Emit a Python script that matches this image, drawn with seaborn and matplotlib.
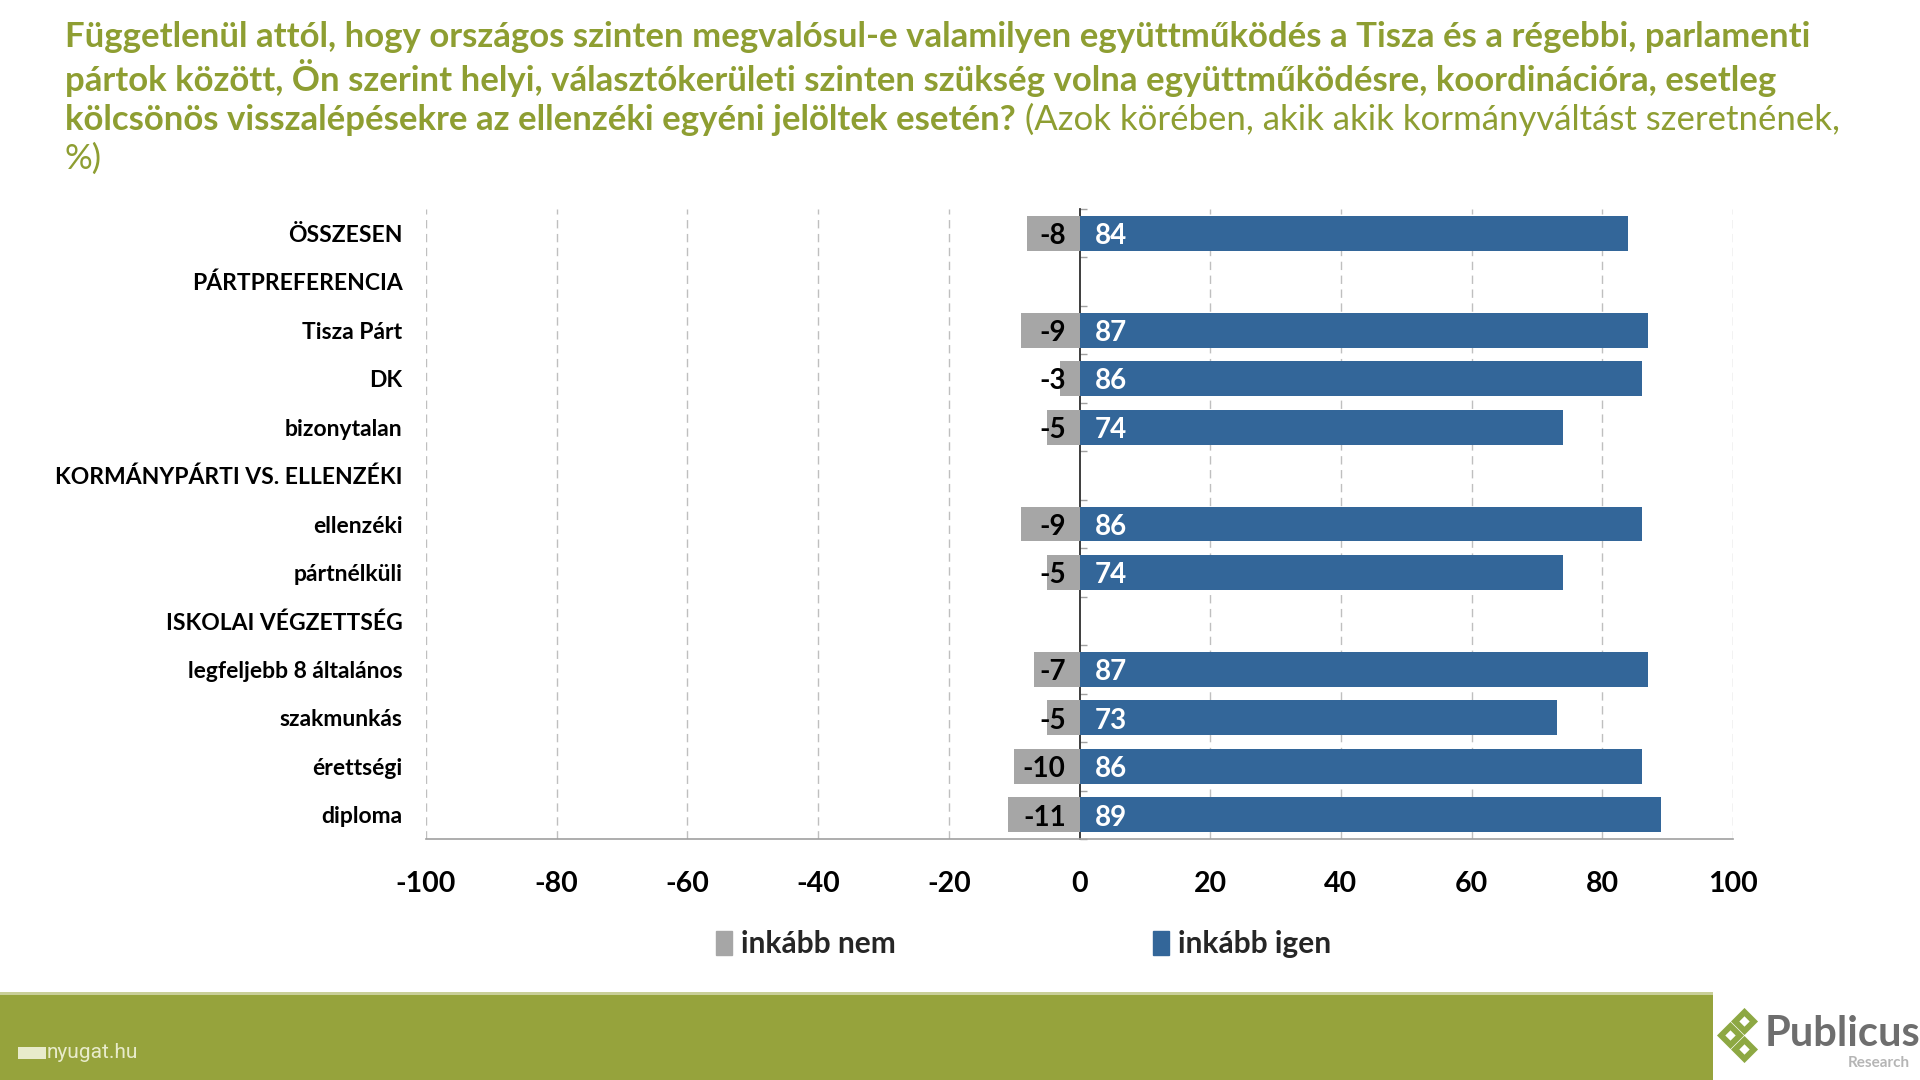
import numpy as np
import pandas as pd
import matplotlib
matplotlib.use("Agg")
import matplotlib.pyplot as plt
import matplotlib.patches as mpatches
import seaborn as sns

# chart data
categories = ['ÖSSZESEN', 'PÁRTPREFERENCIA', 'Tisza Párt', 'DK', 'bizonytalan',
              'KORMÁNYPÁRTI VS. ELLENZÉKI', 'ellenzéki', 'pártnélküli',
              'ISKOLAI VÉGZETTSÉG', 'legfeljebb 8 általános', 'szakmunkás',
              'érettségi', 'diploma']
inkabb_nem = [-8, np.nan, -9, -3, -5, np.nan, -9, -5, np.nan, -7, -5, -10, -11]
inkabb_igen = [84, np.nan, 87, 86, 74, np.nan, 86, 74, np.nan, 87, 73, 86, 89]
series_names = ['inkább nem', 'inkább igen']
x_ticks = [-100, -80, -60, -40, -20, 0, 20, 40, 60, 80, 100]

title_bold_1 = "Függetlenül attól, hogy országos szinten megvalósul-e valamilyen együttműködés a Tisza és a régebbi, parlamenti"
title_bold_2 = "pártok között, Ön szerint helyi, választókerületi szinten szükség volna együttműködésre, koordinációra, esetleg"
title_bold_3 = "kölcsönös visszalépésekre az ellenzéki egyéni jelöltek esetén?"
title_reg_3 = " (Azok körében, akik akik kormányváltást szeretnének,"
title_reg_4 = "%)"

GREY = '#A6A6A6'
BLUE = '#336699'
OLIVE = '#8E9E32'
FOOTER = '#96A33C'
GRID = '#BFBFBF'

sns.set_theme(style="white")
plt.rcParams['font.family'] = ['Lato', 'DejaVu Sans']

df = pd.DataFrame({
    'category': categories * 2,
    'value': inkabb_nem + inkabb_igen,
    'series': [series_names[0]] * len(categories) + [series_names[1]] * len(categories),
}).dropna()

fig = plt.figure(figsize=(19.2, 10.8), dpi=100)
ax = fig.add_axes([0.2219, 0.2231, 0.6807, 0.5834])

sns.barplot(data=df, x='value', y='category', hue='series', order=categories,
            hue_order=series_names, palette=[GREY, BLUE], dodge=False,
            width=0.72, orient='h', errorbar=None, saturation=1,
            linewidth=0, legend=False, ax=ax)

ax.set_xlim(-100, 100)
ax.set_ylim(len(categories) - 0.5, -0.5)
ax.set_xticks(x_ticks)
ax.set_xticklabels([str(t) for t in x_ticks], fontsize=20.5, fontweight='bold', color='black')
ax.tick_params(axis='x', direction='out', length=7, width=1, color='#A0A0A0', pad=16)
ax.tick_params(axis='y', length=0, pad=17)
for lbl in ax.get_yticklabels():
    lbl.set_fontsize(16.5)
    lbl.set_fontweight('bold')
    lbl.set_color('black')
ax.set_xlabel('')
ax.set_ylabel('')

for s in ['top', 'right', 'left']:
    ax.spines[s].set_visible(False)
ax.spines['bottom'].set_color('#A0A0A0')
ax.spines['bottom'].set_linewidth(1.2)

# dashed vertical grid
for t in x_ticks:
    if t != 0:
        ax.axvline(t, color=GRID, linestyle=(0, (6, 4)), linewidth=1, zorder=0)

# zero axis with small category ticks
sec = ax.secondary_yaxis(0.5)
sec.set_yticks(np.arange(len(categories) + 1) - 0.5)
sec.set_yticklabels([])
sec.tick_params(axis='y', direction='out', length=5, width=1, color='#A0A0A0')
sec.spines['left'].set_color('#A0A0A0')
sec.spines['left'].set_linewidth(1.2)

# value labels
for i, (n, y) in enumerate(zip(inkabb_nem, inkabb_igen)):
    if not np.isnan(n):
        ax.annotate(f'{int(n)}', xy=(0, i), xytext=(-10, -2), textcoords='offset points',
                    ha='right', va='center', fontsize=20, fontweight='bold', color='black')
    if not np.isnan(y):
        ax.annotate(f'{int(y)}', xy=(0, i), xytext=(11, -2), textcoords='offset points',
                    ha='left', va='center', fontsize=20, fontweight='bold', color='white')

# legend
handles = [mpatches.Patch(color=GREY, label=series_names[0]),
           mpatches.Patch(color=BLUE, label=series_names[1])]
leg = fig.legend(handles=handles, loc='center', bbox_to_anchor=(0.533, 1 - 944 / 1080),
                 ncol=2, frameon=False, handlelength=0.55, handleheight=0.85,
                 handletextpad=0.3, columnspacing=8.6,
                 prop={'size': 21.5, 'weight': 'bold'})

# title
TS = 25
t1 = fig.text(65 / 1920, 1 - 37 / 1080, title_bold_1, fontsize=TS, fontweight='bold',
              color=OLIVE, va='center', ha='left')
fig.text(65 / 1920, 1 - 78 / 1080, title_bold_2, fontsize=TS, fontweight='bold',
         color=OLIVE, va='center', ha='left')
t3 = fig.text(65 / 1920, 1 - 120 / 1080, title_bold_3, fontsize=TS, fontweight='bold',
              color=OLIVE, va='center', ha='left')
ann = plt.annotate(title_reg_3, xy=(1, 0), xycoords=t3, fontsize=TS, color=OLIVE,
                   va='bottom', ha='left', annotation_clip=False)
fig.text(65 / 1920, 1 - 159 / 1080, title_reg_4, fontsize=TS, color=OLIVE,
         va='center', ha='left')

# footer band and logos (pixel overlay)
ov = fig.add_axes([0, 0, 1, 1], zorder=-1)
ov.set_xlim(0, 1920)
ov.set_ylim(1080, 0)
ov.axis('off')
ov.add_patch(mpatches.Rectangle((0, 994), 1713, 86, color=FOOTER, lw=0))
ov.add_patch(mpatches.Rectangle((0, 992), 1713, 3, color='#C9CF98', lw=0))
ov.add_patch(mpatches.Rectangle((18, 1047), 28, 12, color='#E8EBCB', lw=0))
ov.text(47, 1053, 'nyugat.hu', fontsize=15, color='#E8EBCB', va='center', ha='left',
        family=['Roboto', 'DejaVu Sans'])
for (dx, dy) in [(1744, 1021), (1730, 1035), (1744, 1049)]:
    ov.scatter([dx], [dy], marker='D', s=190, color='#8DA843', zorder=3, linewidths=0)
    ov.scatter([dx], [dy], marker='D', s=28, color='white', zorder=4, linewidths=0)
ov.text(1765, 1034, 'Publicus', fontsize=30, fontweight='bold', color='#6E6E6E',
        va='center', ha='left')
ov.text(1910, 1063, 'Research', fontsize=11, fontweight='bold', color='#B5B5B5',
        va='center', ha='right')

fig.savefig('out.png', dpi=100)
